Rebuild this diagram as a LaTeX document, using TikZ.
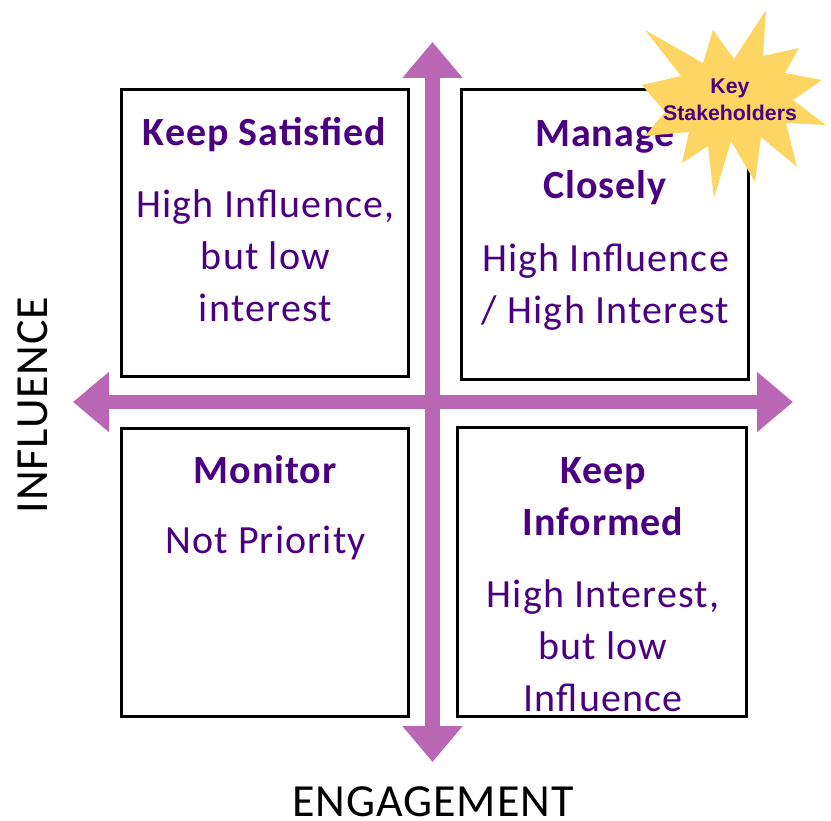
\documentclass[tikz,border=0pt]{standalone}
\usepackage{fontspec}
\setmainfont{Carlito}
\newfontfamily\starfont{Liberation Sans}
\newfontfamily\headfont[LetterSpace=2.5]{Carlito}
\newfontfamily\bodyfont[LetterSpace=3]{Carlito}
\newfontfamily\axfont[LetterSpace=2]{Carlito}
\usetikzlibrary{arrows.meta}
\definecolor{ink}{HTML}{4B0082}
\definecolor{plum}{HTML}{B966B4}
\definecolor{starfill}{HTML}{FDD563}
\tikzset{
 quad/.style={draw=black,line width=3pt,fill=white,inner sep=0pt},
 axis/.style={draw=plum,line width=14.5pt,{Triangle[length=36pt,width=58pt,fill=plum]}-{Triangle[length=36pt,width=58pt,fill=plum]}},
 head/.style={text=ink,font=\headfont\fontsize{40}{52}\selectfont\bfseries,align=center,inner sep=0pt,anchor=center},
 body/.style={text=ink,font=\bodyfont\fontsize{40}{52}\selectfont,align=center,inner sep=0pt,anchor=center},
 axlabel/.style={text=black,font=\axfont\fontsize{46}{50}\selectfont,inner sep=0pt},
 burst/.style={fill=starfill,draw=none}
}
\begin{document}
\begin{tikzpicture}[x=1pt,y=-1pt]
\useasboundingbox (0,0) rectangle (831,821);
\node[quad,minimum width=287pt,minimum height=287pt] (q1) at (264.5,233.5) {};
\node[quad,minimum width=287pt,minimum height=290pt] (q2) at (604.5,235) {};
\node[quad,minimum width=287pt,minimum height=288pt] (q3) at (264.5,572) {};
\node[quad,minimum width=289pt,minimum height=289pt] (q4) at (601.5,571.5) {};
\coordinate (vt) at (432.5,42);
\coordinate (vb) at (432.5,762);
\coordinate (hl) at (73,402);
\coordinate (hr) at (793,402);
\draw[axis] (vt) -- (vb);
\draw[axis] (hl) -- (hr);
\node[head] (t1) at (264.5,135) {Keep Satisfied};
\node[body] (b1) at (265.5,256) {High Influence,\\but low\\interest};
\node[head] (t2) at (605,163) {Manage\\Closely};
\node[body] (b2) at (605.5,287) {High Influence\\/ High Interest};
\node[head] (t3) at (265,470) {Monitor};
\node[body] (b3) at (265.5,543) {Not Priority};
\node[head] (t4) at (603,496.5) {Keep\\Informed};
\node[body] (b4) at (603,646) {High Interest,\\but low\\Influence};
\node[axlabel,rotate=90] (yl) at (33,405) {INFLUENCE};
\node[axlabel] (xl) at (433,802) {ENGAGEMENT};
\fill[burst] (645,30) -- (703,63) -- (713,30) -- (734,59) -- (766,10) -- (763,56) -- (799,48) -- (785,73) -- (822,80) -- (793,100) -- (826,125) -- (786,123) -- (797,167) -- (761,137) -- (755,182) -- (731,141) -- (714,198) -- (708,146) -- (682,163) -- (689,132) -- (645,136) -- (665,112) -- (642,85) -- (681,76) -- cycle;
\node[text=ink,font=\starfont\bfseries\fontsize{21.3}{27}\selectfont,align=center,inner sep=0pt] (ks) at (730,100) {Key\\Stakeholders};
\end{tikzpicture}
\end{document}
